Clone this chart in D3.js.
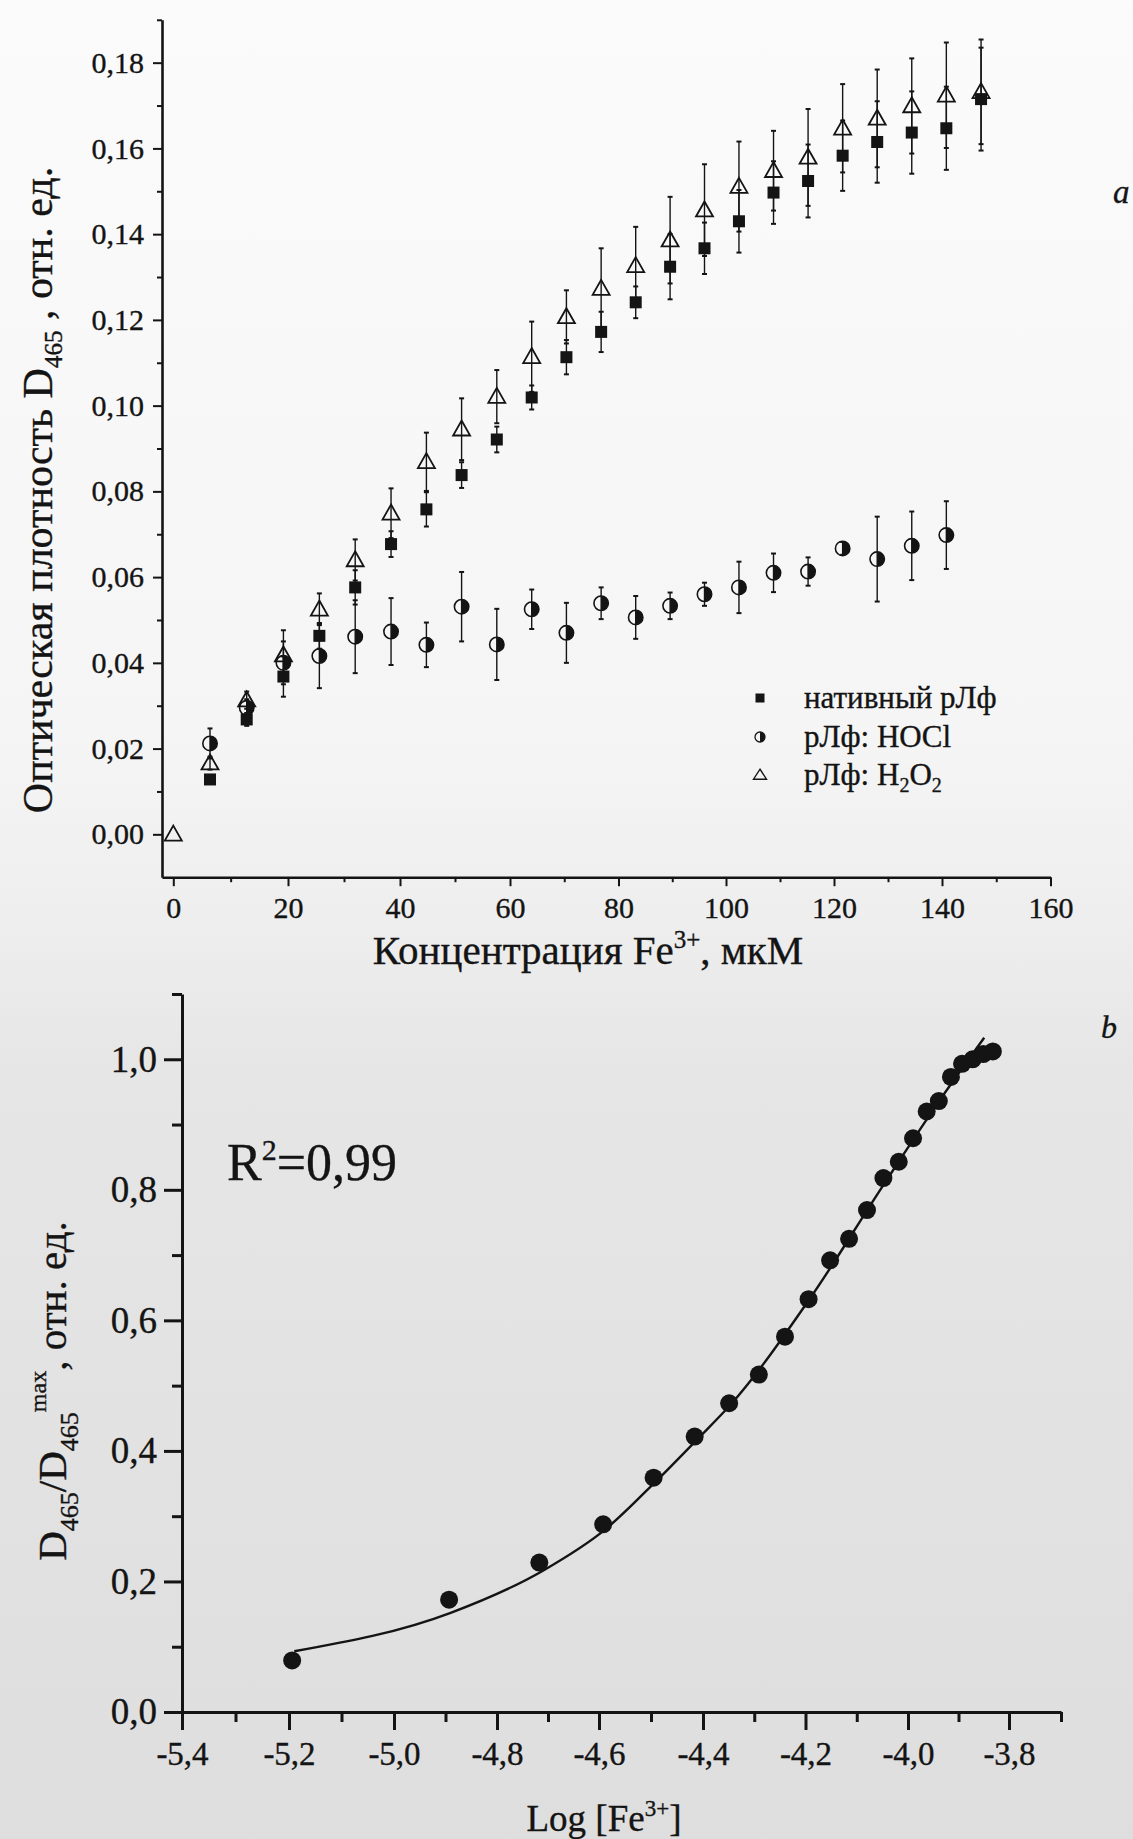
<!DOCTYPE html>
<html><head><meta charset="utf-8">
<script src="https://cdn.jsdelivr.net/npm/d3@7"></script>
<style>
html,body{margin:0;padding:0;background:#f4f4f4;}
svg{display:block;}
text{font-family:"Liberation Serif","Times New Roman",serif;fill:#141414;stroke:#141414;stroke-width:0.35px;}
</style></head><body>
<svg id="chart" width="1133" height="1839"></svg>
<script>
// ---------- Panel a data ----------
const concA = [0, 6.4, 12.8, 19.2, 25.6, 32.0, 38.4, 44.8, 51.2, 57.6, 64.0, 70.4, 76.8, 83.2, 89.6, 96.0, 102.4, 108.8, 115.2, 121.6, 128.0, 134.4, 140.8, 147.2];
const nativeA = [null, 0.0128, 0.0268, 0.0368, 0.0463, 0.0576, 0.0677, 0.0758, 0.0838, 0.0921, 0.1019, 0.1113, 0.1172, 0.1241, 0.1324, 0.1367, 0.1430, 0.1497, 0.1524, 0.1583, 0.1615, 0.1637, 0.1647, 0.1715];
const nativeErr = [0, 0.001, 0.0015, 0.0047, 0.003, 0.004, 0.003, 0.004, 0.003, 0.003, 0.0028, 0.004, 0.0047, 0.0037, 0.0076, 0.006, 0.0073, 0.0073, 0.0085, 0.0082, 0.0095, 0.0096, 0.0097, 0.012];
const hoclA = [null, 0.0212, 0.0295, 0.0400, 0.0416, 0.0461, 0.0473, 0.0442, 0.0531, 0.0443, 0.0525, 0.0470, 0.0539, 0.0506, 0.0533, 0.0560, 0.0576, 0.0610, 0.0613, 0.0667, 0.0642, 0.0673, 0.0698];
const hoclErr = [0, 0.0035, 0.002, 0.005, 0.0075, 0.0085, 0.0078, 0.0052, 0.0081, 0.0083, 0.0046, 0.007, 0.0037, 0.005, 0.0031, 0.0027, 0.006, 0.0045, 0.0033, 0.0015, 0.0099, 0.008, 0.0079];
const h2o2A = [0, 0.0166, 0.0313, 0.0418, 0.0525, 0.0640, 0.0749, 0.0869, 0.0945, 0.1021, 0.1114, 0.1207, 0.1273, 0.1326, 0.1386, 0.1456, 0.1511, 0.1548, 0.1579, 0.1647, 0.1670, 0.1699, 0.1724, 0.1732];
const h2o2Err = [0, 0.0015, 0.002, 0.0058, 0.0037, 0.0048, 0.0058, 0.0068, 0.0072, 0.0062, 0.0082, 0.0062, 0.0094, 0.0091, 0.0101, 0.0107, 0.0105, 0.0093, 0.0113, 0.0103, 0.0114, 0.0111, 0.0123, 0.0122];
const legendA = ["нативный рЛф", "рЛф: HOCl", "рЛф: H"];

const xTicksA = [0, 20, 40, 60, 80, 100, 120, 140, 160];
const xMinorA = [10, 30, 50, 70, 90, 110, 130, 150];
const yTicksA = [0, 0.02, 0.04, 0.06, 0.08, 0.10, 0.12, 0.14, 0.16, 0.18];
const yMinorA = [0.01, 0.03, 0.05, 0.07, 0.09, 0.11, 0.13, 0.15, 0.17, 0.19];

// ---------- Panel b data ----------
const logFe = [-5.194, -4.893, -4.717, -4.592, -4.495, -4.416, -4.349, -4.291, -4.240, -4.194, -4.152, -4.115, -4.080, -4.048, -4.018, -3.990, -3.963, -3.939, -3.915, -3.893, -3.872, -3.851, -3.832];
const normD = [0.079, 0.172, 0.229, 0.2875, 0.359, 0.422, 0.473, 0.517, 0.575, 0.6325, 0.692, 0.725, 0.769, 0.818, 0.843, 0.879, 0.920, 0.936, 0.973, 0.993, 1.0, 1.008, 1.012];
const fitX = [-5.19, -4.89, -4.71, -4.586, -4.491, -4.412, -4.346, -4.19, -4.05, -3.94, -3.849];
const fitY = [0.093, 0.152, 0.2165, 0.281, 0.353, 0.417, 0.471, 0.635, 0.805, 0.934, 1.033];

const xTicksB = [-5.4, -5.2, -5.0, -4.8, -4.6, -4.4, -4.2, -4.0, -3.8];
const xMinorB = [-5.3, -5.1, -4.9, -4.7, -4.5, -4.3, -4.1, -3.9, -3.7];
const yTicksB = [0, 0.2, 0.4, 0.6, 0.8, 1.0];
const yMinorB = [0.1, 0.3, 0.5, 0.7, 0.9, 1.1];

// ---------- setup ----------
const svg = d3.select("#chart");
const W = 1133, H = 1839;
const defs = svg.append("defs");
const grad = defs.append("linearGradient").attr("id", "bg").attr("x1", 0).attr("y1", 0).attr("x2", 0).attr("y2", 1);
[[0, "#fbfbfb"], [0.4, "#f5f5f5"], [0.5, "#eeeeee"], [0.58, "#e6e6e6"], [1, "#dedede"]]
  .forEach(([o, c]) => grad.append("stop").attr("offset", o).attr("stop-color", c));
svg.append("rect").attr("width", W).attr("height", H).attr("fill", "url(#bg)");

const loc = d3.formatLocale({decimal: ",", thousands: "\u00a0", grouping: [3], currency: ["", ""], minus: "-"});
const fmt2 = loc.format(".2f"), fmt1 = loc.format(".1f"), fmt0 = loc.format("d");
const ink = "#141414";

function styleAxis(g, fs, dw, tw) {
  g.attr("font-size", null).attr("font-family", null);
  g.select(".domain").attr("stroke", ink).attr("stroke-width", dw);
  g.selectAll(".tick line").attr("stroke", ink).attr("stroke-width", tw);
  g.selectAll(".tick text").attr("font-size", fs).attr("fill", ink);
}

// ---------- Panel a ----------
const xA = d3.scaleLinear()
  .domain([-2, 0, 20, 40, 60, 80, 100, 120, 140, 160])
  .range([162, 173.3, 288, 400, 510, 618.5, 726, 834, 942, 1050.5]);
const yA = d3.scaleLinear().domain([-0.01, 0.19]).range([877.2, 19.8]);
const gA = svg.append("g");

const axA_y = gA.append("g").attr("transform", `translate(${xA(-2)},0)`)
  .call(d3.axisLeft(yA).tickValues(yTicksA).tickSize(9).tickSizeOuter(0).tickPadding(9).tickFormat(fmt2));
styleAxis(axA_y, 30, 2.6, 2);
const axA_ym = gA.append("g").attr("transform", `translate(${xA(-2)},0)`)
  .call(d3.axisLeft(yA).tickValues(yMinorA).tickSize(5).tickSizeOuter(0).tickFormat(""));
axA_ym.select(".domain").remove(); styleAxis(axA_ym, 30, 2.6, 2);

const axA_x = gA.append("g").attr("transform", `translate(0,${yA(-0.01)})`)
  .call(d3.axisBottom(xA).tickValues(xTicksA).tickSize(9).tickSizeOuter(0).tickPadding(11).tickFormat(fmt0));
styleAxis(axA_x, 30, 2.6, 2);
const axA_xm = gA.append("g").attr("transform", `translate(0,${yA(-0.01)})`)
  .call(d3.axisBottom(xA).tickValues(xMinorA).tickSize(5).tickSizeOuter(0).tickFormat(""));
axA_xm.select(".domain").remove(); styleAxis(axA_xm, 30, 2.6, 2);

// markers
function square(g, cx, cy, s) {
  g.append("rect").attr("x", cx - s / 2).attr("y", cy - s / 2).attr("width", s).attr("height", s).attr("fill", ink);
}
function tri(g, cx, cy, w, h, sw) {
  g.append("path").attr("d", `M${cx},${cy - h * 0.58}L${cx + w / 2},${cy + h * 0.42}L${cx - w / 2},${cy + h * 0.42}Z`)
    .attr("fill", "none").attr("stroke", ink).attr("stroke-width", sw).attr("stroke-linejoin", "miter");
}
function half(g, cx, cy, r, sw) {
  g.append("circle").attr("cx", cx).attr("cy", cy).attr("r", r).attr("fill", "none").attr("stroke", ink).attr("stroke-width", sw);
  g.append("path").attr("d", `M${cx},${cy - r}A${r},${r} 0 0 1 ${cx},${cy + r}Z`).attr("fill", ink);
}
function errBar(g, x, v, e, ys) {
  if (!e || v == null) return;
  const y1 = ys(v - e), y2 = ys(v + e);
  g.append("line").attr("x1", x).attr("x2", x).attr("y1", y1).attr("y2", y2).attr("stroke", ink).attr("stroke-width", 1.4);
  [y1, y2].forEach(y => g.append("line").attr("x1", x - 2.5).attr("x2", x + 2.5).attr("y1", y).attr("y2", y).attr("stroke", ink).attr("stroke-width", 2));
}

const sN = gA.append("g"), sH = gA.append("g"), sT = gA.append("g");
nativeA.forEach((v, i) => { errBar(sN, xA(concA[i]), v, nativeErr[i], yA); });
nativeA.forEach((v, i) => { if (v != null) square(sN, xA(concA[i]), yA(v), 12); });
hoclA.forEach((v, i) => { errBar(sH, xA(concA[i]), v, hoclErr[i], yA); });
hoclA.forEach((v, i) => { if (v != null) half(sH, xA(concA[i]), yA(v), 7.2, 1.6); });
h2o2A.forEach((v, i) => { errBar(sT, xA(concA[i]), v, h2o2Err[i], yA); });
h2o2A.forEach((v, i) => { tri(sT, xA(concA[i]), yA(v), 17, 15, 1.8); });

// legend
const lg = gA.append("g");
const lgX = 760, lgRows = [698, 737, 775];
square(lg, lgX, lgRows[0], 9);
half(lg, lgX, lgRows[1], 5, 1.3);
tri(lg, lgX, lgRows[2], 13, 10, 1.4);
lg.append("text").attr("x", 804).attr("y", lgRows[0] + 10).attr("font-size", 31).text(legendA[0]);
lg.append("text").attr("x", 804).attr("y", lgRows[1] + 10).attr("font-size", 31).text(legendA[1]);
const t3 = lg.append("text").attr("x", 804).attr("y", lgRows[2] + 10).attr("font-size", 31);
t3.append("tspan").text(legendA[2]);
t3.append("tspan").attr("font-size", 20).attr("dy", 7).text("2");
t3.append("tspan").attr("dy", -7).text("O");
t3.append("tspan").attr("font-size", 20).attr("dy", 7).text("2");

// titles a
const xtA = gA.append("text").attr("x", 588).attr("y", 964).attr("text-anchor", "middle").attr("font-size", 41);
xtA.append("tspan").text("Концентрация Fe");
xtA.append("tspan").attr("font-size", 25).attr("dy", -16).text("3+");
xtA.append("tspan").attr("dy", 16).text(", мкМ");

const ytA = gA.append("text").attr("transform", "translate(52,490) rotate(-90)").attr("text-anchor", "middle").attr("font-size", 42);
ytA.append("tspan").text("Оптическая плотность D");
ytA.append("tspan").attr("font-size", 25).attr("dy", 10).text("465");
ytA.append("tspan").attr("dy", -10).text(" , отн. ед.");

gA.append("text").attr("x", 1113).attr("y", 203).attr("font-size", 33).attr("font-style", "italic").text("a");

// ---------- Panel b ----------
const xB = d3.scaleLinear()
  .domain([-5.4, -5.2, -5.0, -4.8, -4.6, -4.4, -4.2, -4.0, -3.8, -3.7])
  .range([182, 289, 394, 497, 599, 703, 805.5, 908, 1009, 1061]);
const yB = d3.scaleLinear().domain([0, 1.1]).range([1712, 994]);
const gB = svg.append("g");

const axB_y = gB.append("g").attr("transform", `translate(${xB(-5.4)},0)`)
  .call(d3.axisLeft(yB).tickValues(yTicksB).tickSize(18).tickSizeOuter(0).tickPadding(7).tickFormat(fmt1));
styleAxis(axB_y, 37, 3, 3);
const axB_ym = gB.append("g").attr("transform", `translate(${xB(-5.4)},0)`)
  .call(d3.axisLeft(yB).tickValues(yMinorB).tickSize(10).tickSizeOuter(0).tickFormat(""));
axB_ym.select(".domain").remove(); styleAxis(axB_ym, 37, 3, 3);

const axB_x = gB.append("g").attr("transform", `translate(0,${yB(0)})`)
  .call(d3.axisBottom(xB).tickValues(xTicksB).tickSize(18).tickSizeOuter(0).tickPadding(12).tickFormat(fmt1));
styleAxis(axB_x, 33, 3, 3);
const axB_xm = gB.append("g").attr("transform", `translate(0,${yB(0)})`)
  .call(d3.axisBottom(xB).tickValues(xMinorB).tickSize(10).tickSizeOuter(0).tickFormat(""));
axB_xm.select(".domain").remove(); styleAxis(axB_xm, 33, 3, 3);

const fitLine = d3.line().x((d, i) => xB(fitX[i])).y((d, i) => yB(fitY[i])).curve(d3.curveMonotoneX);
gB.append("path").attr("d", fitLine(fitX)).attr("fill", "none").attr("stroke", ink).attr("stroke-width", 2.4);

gB.append("g").selectAll("circle").data(normD).join("circle")
  .attr("cx", (d, i) => xB(logFe[i])).attr("cy", d => yB(d)).attr("r", 9).attr("fill", ink);

const r2 = gB.append("text").attr("x", 227).attr("y", 1180).attr("font-size", 52);
r2.append("tspan").text("R");
r2.append("tspan").attr("font-size", 30).attr("dy", -20).text("2");
r2.append("tspan").attr("dy", 20).text("=0,99");

const ytB = gB.append("text").attr("transform", "translate(66,1391) rotate(-90)").attr("text-anchor", "middle").attr("font-size", 41);
ytB.append("tspan").text("D");
ytB.append("tspan").attr("font-size", 26).attr("dy", 12).text("465");
ytB.append("tspan").attr("dy", -12).text("/D");
ytB.append("tspan").attr("font-size", 26).attr("dy", 12).text("465");
ytB.append("tspan").attr("font-size", 24).attr("dy", -32).text("max");
ytB.append("tspan").attr("dy", 20).text(", отн. ед.");

const xtB = gB.append("text").attr("x", 604).attr("y", 1831).attr("text-anchor", "middle").attr("font-size", 37);
xtB.append("tspan").text("Log [Fe");
xtB.append("tspan").attr("font-size", 23).attr("dy", -15).text("3+");
xtB.append("tspan").attr("dy", 15).text("]");

gB.append("text").attr("x", 1101).attr("y", 1038).attr("font-size", 32).attr("font-style", "italic").text("b");
</script>
</body></html>
